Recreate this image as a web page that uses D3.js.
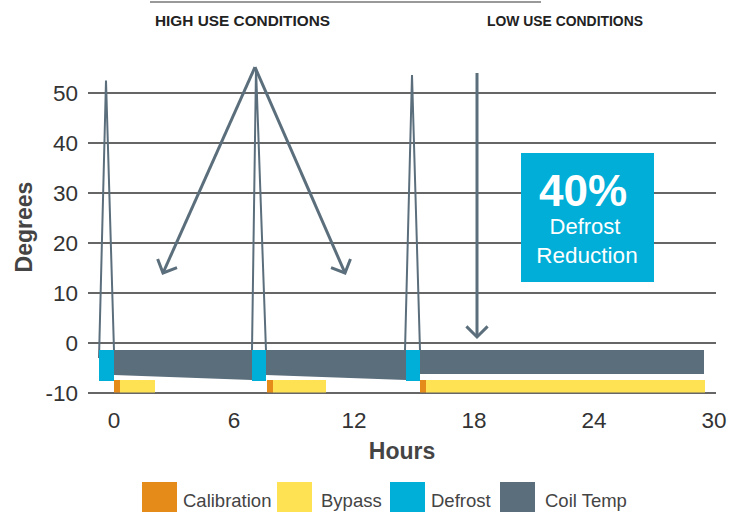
<!DOCTYPE html>
<html>
<head>
<meta charset="utf-8">
<script src="https://cdn.jsdelivr.net/npm/d3@7"></script>
<style>
  body { margin: 0; background: #fff; }
  text { font-family: "Liberation Sans", Arial, sans-serif; }
</style>
</head>
<body>
<div id="chart"></div>
<script>
// Tick values
var xTicks = [0, 6, 12, 18, 24, 30];
var yTicks = [-10, 0, 10, 20, 30, 40, 50];

// Coil temperature spikes (hours, degrees)
var spike1 = [[-0.75, -3], [-0.4, 52.5], [0, -1.5]];
var spike2 = [[6.9, -1.5], [7.1, 55], [7.6, -1.5]];
var spike3 = [[14.55, -1.5], [14.9, 53.6], [15.3, -1.5]];

// Coil temp band: [start hour, end hour, top, bottom at start, bottom at end]
var coilBands = [
  [0, 6.9, -1.4, -6.4, -7.4],
  [7.6, 14.6, -1.4, -6.4, -7.4],
  [15.3, 29.5, -1.4, -6.2, -6.2]
];

// Defrost periods: [start, end]
var defrostPeriods = [[-0.75, 0], [6.9, 7.6], [14.6, 15.3]];
var defrostRange = [-1.4, -7.6];

// Calibration and bypass periods: [start, end]
var calibrationPeriods = [[0, 0.3], [7.65, 7.95], [15.3, 15.6]];
var bypassPeriods = [[0.3, 2.05], [7.95, 10.6], [15.6, 29.55]];
var lowerRange = [-7.4, -9.9];

var legendNames = ["Calibration", "Bypass", "Defrost", "Coil Temp"];
var colors = { "Calibration": "#e58b19", "Bypass": "#ffe253", "Defrost": "#00afd8", "Coil Temp": "#5b6e7c" };

var width = 730, height = 512;

var svg = d3.select("#chart").append("svg")
  .attr("width", width)
  .attr("height", height);

var x = d3.scaleLinear().domain([0, 30]).range([114, 714]);
var y = d3.scaleLinear().domain([-10, 50]).range([393, 93]);

// Gridlines
svg.append("g").selectAll("line")
  .data(yTicks)
  .enter().append("line")
  .attr("x1", 88).attr("x2", 716)
  .attr("y1", function(d) { return y(d); })
  .attr("y2", function(d) { return y(d); })
  .attr("stroke", "#333")
  .attr("stroke-width", 1.4);

// Y tick labels
svg.append("g").selectAll("text")
  .data(yTicks)
  .enter().append("text")
  .attr("x", 78)
  .attr("y", function(d) { return y(d) + 8; })
  .attr("text-anchor", "end")
  .attr("font-size", 22.5)
  .attr("fill", "#333")
  .text(function(d) { return d; });

// X tick labels
svg.append("g").selectAll("text")
  .data(xTicks)
  .enter().append("text")
  .attr("x", function(d) { return x(d); })
  .attr("y", 428)
  .attr("text-anchor", "middle")
  .attr("font-size", 22.5)
  .attr("fill", "#333")
  .text(function(d) { return d; });

// Axis titles
svg.append("text")
  .attr("x", 402).attr("y", 459)
  .attr("text-anchor", "middle")
  .attr("font-size", 23).attr("font-weight", "bold")
  .attr("fill", "#444")
  .text("Hours");

svg.append("text")
  .attr("transform", "translate(32,227) rotate(-90)")
  .attr("text-anchor", "middle")
  .attr("font-size", 23).attr("font-weight", "bold")
  .attr("fill", "#444")
  .text("Degrees");

// Coil temp spike lines
var line = d3.line()
  .x(function(d) { return x(d[0]); })
  .y(function(d) { return y(d[1]); });

[spike1, spike2, spike3].forEach(function(s) {
  svg.append("path")
    .attr("d", line(s))
    .attr("fill", "none")
    .attr("stroke", colors["Coil Temp"])
    .attr("stroke-width", 2);
});

// Coil temp band
var area = d3.area()
  .x(function(d) { return x(d[0]); })
  .y0(function(d) { return y(d[2]); })
  .y1(function(d) { return y(d[1]); });

coilBands.forEach(function(b) {
  svg.append("path")
    .attr("d", area([[b[0], b[2], b[3]], [b[1], b[2], b[4]]]))
    .attr("fill", colors["Coil Temp"]);
});

// Defrost rects
svg.append("g").selectAll("rect")
  .data(defrostPeriods)
  .enter().append("rect")
  .attr("x", function(d) { return x(d[0]); })
  .attr("width", function(d) { return x(d[1]) - x(d[0]); })
  .attr("y", y(defrostRange[0]))
  .attr("height", y(defrostRange[1]) - y(defrostRange[0]))
  .attr("fill", colors["Defrost"]);

// Calibration and bypass rects
function drawPeriods(periods, color) {
  svg.append("g").selectAll("rect")
    .data(periods)
    .enter().append("rect")
    .attr("x", function(d) { return x(d[0]); })
    .attr("width", function(d) { return x(d[1]) - x(d[0]); })
    .attr("y", y(lowerRange[0]))
    .attr("height", y(lowerRange[1]) - y(lowerRange[0]))
    .attr("fill", color);
}
drawPeriods(bypassPeriods, colors["Bypass"]);
drawPeriods(calibrationPeriods, colors["Calibration"]);

// Annotation arrows
var arrowColor = "#5b6e7c";
function arrow(x1, y1, x2, y2) {
  svg.append("line")
    .attr("x1", x1).attr("y1", y1).attr("x2", x2).attr("y2", y2)
    .attr("stroke", arrowColor).attr("stroke-width", 3);
  var ang = Math.atan2(y2 - y1, x2 - x1);
  var len = 15, spread = Math.PI / 4;
  var pts = [
    [x2 - len * Math.cos(ang - spread), y2 - len * Math.sin(ang - spread)],
    [x2, y2],
    [x2 - len * Math.cos(ang + spread), y2 - len * Math.sin(ang + spread)]
  ];
  svg.append("path")
    .attr("d", d3.line()(pts))
    .attr("fill", "none")
    .attr("stroke", arrowColor).attr("stroke-width", 3);
}
arrow(x(7.05), y(55.2), x(2.45), y(14));
arrow(x(7.05), y(55.2), x(11.55), y(14));
arrow(x(18.15), y(54), x(18.15), y(1.2));

// 40% box
svg.append("rect")
  .attr("x", x(20.35)).attr("y", y(38))
  .attr("width", x(27) - x(20.35))
  .attr("height", y(12.2) - y(38))
  .attr("fill", "#00aed8");

var boxCx = 585;
svg.append("text")
  .attr("x", boxCx - 2).attr("y", 206)
  .attr("text-anchor", "middle")
  .attr("font-size", 44).attr("font-weight", "bold")
  .attr("fill", "#fff")
  .text("40%");
svg.append("text")
  .attr("x", boxCx).attr("y", 234)
  .attr("text-anchor", "middle")
  .attr("font-size", 22)
  .attr("fill", "#fff")
  .text("Defrost");
svg.append("text")
  .attr("x", boxCx + 2).attr("y", 263)
  .attr("text-anchor", "middle")
  .attr("font-size", 22.5)
  .attr("fill", "#fff")
  .text("Reduction");

// Header
svg.append("line")
  .attr("x1", 150).attr("x2", 541)
  .attr("y1", 2).attr("y2", 2)
  .attr("stroke", "#777").attr("stroke-width", 1.5);

svg.append("text")
  .attr("x", 155).attr("y", 26)
  .attr("font-size", 15).attr("font-weight", "bold")
  .attr("fill", "#222")
  .attr("textLength", 175).attr("lengthAdjust", "spacingAndGlyphs")
  .text("HIGH USE CONDITIONS");
svg.append("text")
  .attr("x", 487).attr("y", 26)
  .attr("font-size", 15).attr("font-weight", "bold")
  .attr("fill", "#222")
  .attr("textLength", 156).attr("lengthAdjust", "spacingAndGlyphs")
  .text("LOW USE CONDITIONS");

// Legend
var legendX = [142, 277, 390, 500];
var legend = svg.append("g").selectAll("g")
  .data(legendNames)
  .enter().append("g")
  .attr("transform", function(d, i) { return "translate(" + legendX[i] + ",482)"; });

legend.append("rect")
  .attr("width", 35).attr("height", 30)
  .attr("fill", function(d) { return colors[d]; });

legend.append("text")
  .attr("x", function(d, i) { return i === 1 ? 44 : (i === 3 ? 45 : 41); })
  .attr("y", 25)
  .attr("font-size", 18.5)
  .attr("fill", "#444")
  .text(function(d) { return d; });
</script>
</body>
</html>
